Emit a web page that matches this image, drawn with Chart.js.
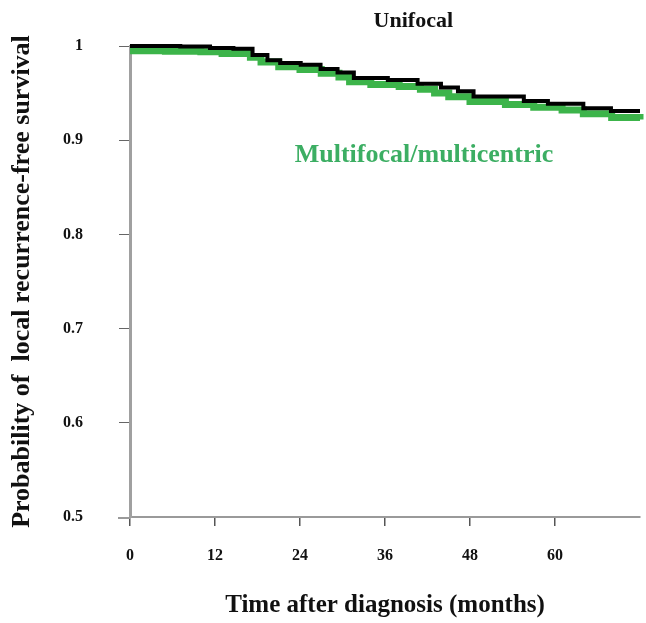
<!DOCTYPE html>
<html>
<head>
<meta charset="utf-8">
<script src="https://cdn.jsdelivr.net/npm/chart.js@4"></script>
<style>
html,body{margin:0;padding:0;background:#fff;}
#wrap{width:646px;height:623px;}
</style>
</head>
<body>
<div id="wrap"><canvas id="c" width="646" height="623"></canvas></div>
<script>
// Unifocal (black) Kaplan-Meier curve
const unifocalMonths = [0, 7.1, 11.3, 14.6, 17.3, 19.4, 21.2, 24.1, 26.9, 29.3, 31.6, 36.4, 40.6, 43.9, 46.3, 48.5, 55.6, 59.0, 64.0, 67.9, 72];
const unifocalSurv   = [1.000, 0.9995, 0.998, 0.997, 0.9905, 0.985, 0.982, 0.980, 0.9755, 0.972, 0.966, 0.964, 0.960, 0.956, 0.952, 0.9465, 0.9415, 0.9386, 0.934, 0.931, 0.931];
// Multifocal/multicentric (green) Kaplan-Meier curve
const multiMonths = [0, 5, 10, 13, 17, 18.5, 21, 24, 27, 29.5, 31, 34, 38, 41, 43, 45, 48, 53, 57, 61, 64, 68, 72];
const multiSurv   = [0.995, 0.9945, 0.994, 0.992, 0.988, 0.983, 0.978, 0.975, 0.971, 0.967, 0.962, 0.959, 0.957, 0.954, 0.950, 0.946, 0.941, 0.938, 0.935, 0.932, 0.928, 0.924, 0.922];
// Axis ticks
const xTickValues = [0, 12, 24, 36, 48, 60];
const xTickLabels = ['0', '12', '24', '36', '48', '60'];
const yTickValues = [0.5, 0.6, 0.7, 0.8, 0.9, 1.0];
const yTickLabels = ['0.5', '0.6', '0.7', '0.8', '0.9', '1'];
const seriesNames = ['Unifocal', 'Multifocal/multicentric'];

const serif = "'Liberation Serif', 'Times New Roman', serif";
const toPts = (xs, ys) => xs.map((x, i) => ({x: x, y: ys[i]}));

const annot = {
  id: 'annot',
  afterDraw(chart) {
    const {ctx, chartArea, scales} = chart;
    ctx.save();
    // x-axis line extends a little left of the y axis
    ctx.strokeStyle = '#9a9a9a';
    ctx.lineWidth = 2;
    ctx.beginPath();
    ctx.moveTo(chartArea.left - 12, chartArea.bottom + 1);
    ctx.lineTo(chartArea.left, chartArea.bottom + 1);
    ctx.stroke();
    // series labels
    ctx.textAlign = 'center';
    ctx.textBaseline = 'middle';
    ctx.font = 'bold 22px ' + serif;
    ctx.fillStyle = '#111';
    ctx.fillText(seriesNames[0], scales.x.getPixelForValue(40), chartArea.top - 25);
    ctx.font = 'bold 26px ' + serif;
    ctx.fillStyle = '#3cae63';
    ctx.fillText(seriesNames[1], scales.x.getPixelForValue(41.5), scales.y.getPixelForValue(0.884));
    ctx.restore();
  }
};

new Chart(document.getElementById('c'), {
  type: 'line',
  data: {
    datasets: [
      {
        label: seriesNames[0],
        data: toPts(unifocalMonths, unifocalSurv),
        borderColor: '#000',
        borderWidth: 4,
        stepped: true,
        pointRadius: 0,
        fill: false,
        clip: 8,
        order: 0,
        borderJoinStyle: 'miter',
        borderCapStyle: 'butt'
      },
      {
        label: seriesNames[1],
        data: toPts(multiMonths, multiSurv),
        borderColor: '#3cb44a',
        borderWidth: 7,
        stepped: true,
        pointRadius: 0,
        fill: false,
        clip: 8,
        order: 1,
        borderJoinStyle: 'miter',
        borderCapStyle: 'butt'
      }
    ]
  },
  options: {
    responsive: false,
    animation: false,
    devicePixelRatio: 1,
    layout: {padding: {top: 46, right: 6, left: 0, bottom: 0}},
    plugins: {legend: {display: false}, tooltip: {enabled: false}},
    scales: {
      x: {
        type: 'linear',
        min: 0,
        max: 72,
        afterFit(s) { s.height = 106; },
        afterBuildTicks(s) { s.ticks = xTickValues.map(v => ({value: v})); },
        border: {display: true, color: '#9a9a9a', width: 2},
        grid: {drawOnChartArea: false, drawTicks: true, tickLength: 9, tickColor: '#555', lineWidth: 1.5},
        ticks: {
          padding: 20,
          color: '#111',
          font: {family: serif, size: 16, weight: 'bold'},
          maxRotation: 0,
          callback(v) { const i = xTickValues.indexOf(v); return i >= 0 ? xTickLabels[i] : ''; }
        },
        title: {
          display: true,
          text: 'Time after diagnosis (months)',
          color: '#111',
          font: {family: serif, size: 25, weight: 'bold'},
          padding: {top: 0, bottom: 2}
        }
      },
      y: {
        type: 'linear',
        min: 0.5,
        max: 1.0,
        afterFit(s) { s.width = 130; },
        afterBuildTicks(s) { s.ticks = yTickValues.map(v => ({value: v})); },
        border: {display: true, color: '#a0a0a0', width: 3},
        grid: {drawOnChartArea: false, drawTicks: true, tickLength: 11, tickColor: '#666', lineWidth: 1},
        ticks: {
          padding: 36,
          color: '#111',
          font: {family: serif, size: 16, weight: 'bold'},
          callback(v) { const i = yTickValues.findIndex(t => Math.abs(t - v) < 1e-6); return i >= 0 ? yTickLabels[i] : ''; }
        },
        title: {
          display: true,
          text: 'Probability of  local recurrence-free survival',
          color: '#111',
          font: {family: serif, size: 26, weight: 'bold'},
          padding: {top: 7, bottom: 0}
        }
      }
    }
  },
  plugins: [annot]
});
</script>
</body>
</html>
